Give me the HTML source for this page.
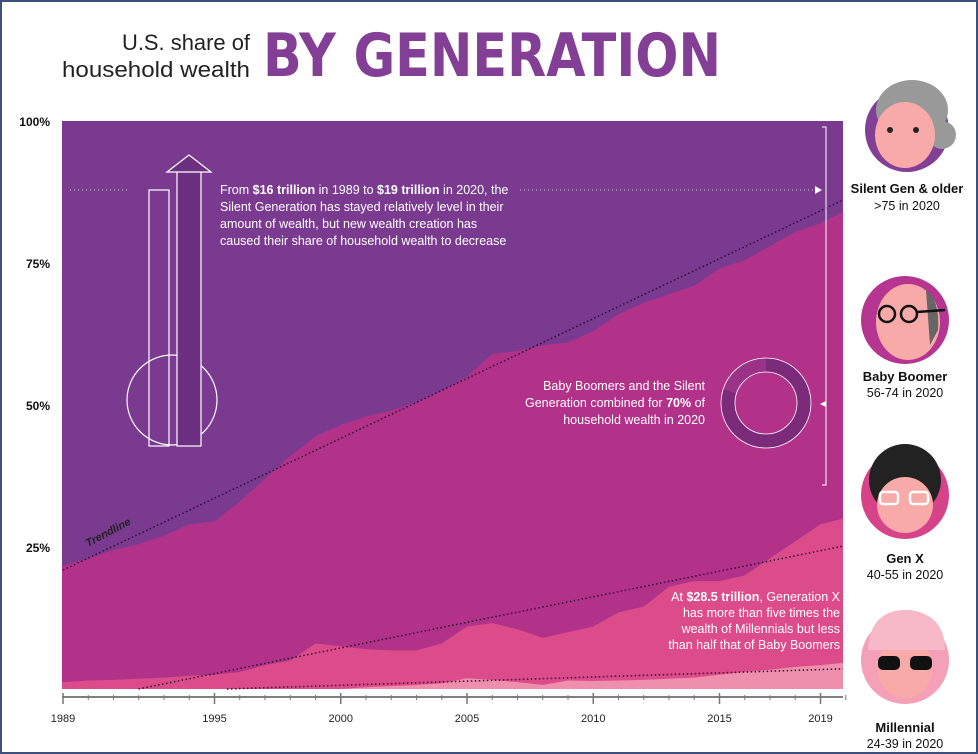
<!DOCTYPE html>
<html><head><meta charset="utf-8"><style>
body{margin:0;width:978px;height:754px;overflow:hidden;background:#fff;font-family:"Liberation Sans",sans-serif}
#frame{position:absolute;left:0;top:0;width:974px;height:750px;border:2px solid #3d4f7c}
</style></head><body>
<div id="frame"></div>
<svg width="978" height="754" style="position:absolute;left:0;top:0" id="chart">
<text x="250" y="50" text-anchor="end" font-size="22" fill="#222" textLength="128" lengthAdjust="spacingAndGlyphs">U.S. share of</text>
<text x="250" y="77" text-anchor="end" font-size="22" fill="#222" textLength="188" lengthAdjust="spacingAndGlyphs">household wealth</text>
<text x="263" y="76" font-size="60" font-weight="bold" fill="#833e96" font-family="DejaVu Sans" textLength="458" lengthAdjust="spacingAndGlyphs">BY GENERATION</text>
<g id="areas"></g>
<g id="axes"></g>
<g id="annot">
<text x="220" y="194" font-size="12.5" fill="#fff"><tspan>From <tspan font-weight="bold">$16 trillion</tspan> in 1989 to <tspan font-weight="bold">$19 trillion</tspan> in 2020, the</tspan><tspan x="220" dy="17">Silent Generation has stayed relatively level in their</tspan><tspan x="220" dy="17">amount of wealth, but new wealth creation has</tspan><tspan x="220" dy="17">caused their share of household wealth to decrease</tspan></text>
<line x1="70" y1="190" x2="130" y2="190" stroke="#fff" stroke-dasharray="1,3" opacity=".7"/>
<line x1="520" y1="190" x2="815" y2="190" stroke="#fff" stroke-dasharray="1,3" opacity=".7"/>
<polygon points="815,186 822,190 815,194" fill="#fff"/>
<g fill="none" stroke="#fff" stroke-width="1.2">
<rect x="149" y="190" width="20" height="256"/>
<circle cx="172" cy="400" r="45"/>
<rect x="177" y="170" width="24" height="276" fill="#6d2f80" stroke="#fff"/>
<polygon points="167,172 189,155 211,172" fill="#6d2f80"/>
</g>
<text x="705" y="390" font-size="12.5" fill="#fff" text-anchor="end"><tspan>Baby Boomers and the Silent</tspan><tspan x="705" dy="17">Generation combined for <tspan font-weight="bold">70%</tspan> of</tspan><tspan x="705" dy="17">household wealth in 2020</tspan></text>
<g>
<circle cx="766" cy="403" r="38" fill="none" stroke="#9a3388" stroke-width="14"/>
<path d="M766,365 A38,38 0 1,1 729.8,391.3" fill="none" stroke="#7c2a7a" stroke-width="14"/>
<circle cx="766" cy="403" r="45" fill="none" stroke="#fff" stroke-width=".8"/>
<circle cx="766" cy="403" r="31" fill="none" stroke="#fff" stroke-width=".8"/>
</g>
<path d="M822,127 H826 V485 H822" fill="none" stroke="#fff" stroke-width="1"/>
<polygon points="826,401 820,404 826,407" fill="#fff"/>
<text x="840" y="601" font-size="12.5" fill="#fff" text-anchor="end"><tspan>At <tspan font-weight="bold">$28.5 trillion</tspan>, Generation X</tspan><tspan x="840" dy="16">has more than five times the</tspan><tspan x="840" dy="16">wealth of Millennials but less</tspan><tspan x="840" dy="16">than half that of Baby Boomers</tspan></text>
<text x="88" y="547" font-size="11" font-style="italic" font-weight="bold" fill="#222" transform="rotate(-28 88 547)">Trendline</text>
</g>
<g id="legend">
<g>
<circle cx="907" cy="130" r="42" fill="#833e96"/>
<ellipse cx="912" cy="110" rx="36" ry="30" fill="#999"/><circle cx="942" cy="135" r="14" fill="#999"/>
<ellipse cx="905" cy="135" rx="30" ry="33" fill="#f7aaa8"/>
<circle cx="890" cy="130" r="3" fill="#222"/><circle cx="916" cy="130" r="3" fill="#222"/>
<text x="907" y="193" font-size="13" font-weight="bold" text-anchor="middle" fill="#111">Silent Gen &amp; older</text>
<text x="907" y="210" font-size="12.5" text-anchor="middle" fill="#111">&gt;75 in 2020</text></g>
<g>
<circle cx="905" cy="320" r="44" fill="#b53590"/>
<ellipse cx="908" cy="322" rx="32" ry="38" fill="#f7aaa8"/>
<path d="M926,290 Q940,300 938,330 L930,345 Z" fill="#666"/>
<circle cx="887" cy="314" r="8" fill="none" stroke="#111" stroke-width="2.5"/><circle cx="909" cy="314" r="8" fill="none" stroke="#111" stroke-width="2.5"/>
<line x1="917" y1="312" x2="945" y2="310" stroke="#111" stroke-width="2.5"/>
<text x="905" y="381" font-size="13" font-weight="bold" text-anchor="middle" fill="#111">Baby Boomer</text>
<text x="905" y="397" font-size="12.5" text-anchor="middle" fill="#111">56-74 in 2020</text></g>
<g>
<circle cx="905" cy="495" r="44" fill="#d64388"/>
<circle cx="905" cy="480" r="36" fill="#222"/>
<ellipse cx="905" cy="505" rx="28" ry="28" fill="#f7aaa8"/>
<rect x="880" y="492" width="18" height="12" rx="3" fill="none" stroke="#fff" stroke-width="2.5"/><rect x="910" y="492" width="18" height="12" rx="3" fill="none" stroke="#fff" stroke-width="2.5"/>
<text x="905" y="563" font-size="13" font-weight="bold" text-anchor="middle" fill="#111">Gen X</text>
<text x="905" y="579" font-size="12.5" text-anchor="middle" fill="#111">40-55 in 2020</text></g>
<g>
<circle cx="905" cy="660" r="44" fill="#f3a0b8"/>
<ellipse cx="905" cy="668" rx="28" ry="30" fill="#f7aaa8"/>
<path d="M868,650 Q870,608 910,610 Q945,615 945,650 Z" fill="#f7b8c8"/>
<rect x="878" y="656" width="22" height="14" rx="5" fill="#111"/><rect x="910" y="656" width="22" height="14" rx="5" fill="#111"/>
<text x="905" y="732" font-size="13" font-weight="bold" text-anchor="middle" fill="#111">Millennial</text>
<text x="905" y="748" font-size="12.5" text-anchor="middle" fill="#111">24-39 in 2020</text></g>
</g>
</svg>
<script>
const years=[1989,1990,1991,1992,1993,1994,1995,1996,1997,1998,1999,2000,2001,2002,2003,2004,2005,2006,2007,2008,2009,2010,2011,2012,2013,2014,2015,2016,2017,2018,2019,2020,2020.75];
const millennialShare=[0,0,0,0,0,0,0,0,0,0,0,0,0.3,0.5,0.7,1.0,1.9,1.6,1.2,0.7,1.5,1.4,1.5,1.6,1.8,2.0,2.5,3.0,3.4,3.9,4.2,4.6,4.8];
const genxCum=[1.2,1.5,1.6,1.8,2.0,2.3,2.5,3.0,4.2,5.0,8.0,7.5,7.0,6.8,6.8,8.0,11.0,11.6,10.5,9.0,10.0,11.0,13.5,14.5,18.0,19.0,19.0,20.0,23.0,26.0,29.0,30.0,31.0];
const boomerCum=[21.7,23.0,24.5,25.5,27.0,29.0,29.5,33.0,37.0,41.0,44.5,46.5,48.0,49.0,50.5,52.5,55.0,59.0,59.5,60.5,61.0,63.0,66.0,68.0,69.5,71.0,74.0,75.5,78.0,80.5,82.0,84.0,85.0];
const yTicks=[25,50,75,100];
const xTicks=[1989,1995,2000,2005,2010,2015,2019];
const X0=62,X1=843;
function x(v){return 63+(v-1989)*25.25;}
function y(v){return 689-v*5.68;}
const NS="http://www.w3.org/2000/svg";
function mk(tag,attrs,parent){const e=document.createElementNS(NS,tag);for(const k in attrs)e.setAttribute(k,attrs[k]);parent.appendChild(e);return e;}
const A=document.getElementById('areas'),AX=document.getElementById('axes');
function area(top,fill,name){
  let d='M'+X0+','+y(0)+' L'+X0+','+y(top[0]);
  years.forEach((yr,i)=>{d+=' L'+Math.min(x(yr),X1)+','+y(top[i]);});
  d+=' L'+X1+','+y(0)+' Z';
  const p=mk('path',{d:d,fill:fill},A);
  
  
}
const bg=mk('rect',{x:X0,y:y(100),width:X1-X0,height:y(0)-y(100),fill:'#7a3a90'},A);


area(boomerCum,'#b23289','area-boomer');
area(genxCum,'#dd4c8a','area-genx');
area(millennialShare,'#ee8fae','area-millennial');
function trend(arr,name){
  const n=years.length;let sx=0,sy=0,sxy=0,sxx=0;
  years.forEach((t,i)=>{sx+=t;sy+=arr[i];sxy+=t*arr[i];sxx+=t*t;});
  const b=(n*sxy-sx*sy)/(n*sxx-sx*sx),a=(sy-b*sx)/n;
  let x0=1989,v0=a+b*x0;if(v0<0){x0=-a/b;v0=0;}
  const l=mk('line',{x1:x(x0),y1:y(v0),x2:X1,y2:y(a+b*2020.75),stroke:'#2a1030','stroke-width':1.5,'stroke-dasharray':'1.5,2.5'},A);
  
  
}
trend(boomerCum,'trendline-boomer');trend(genxCum,'trendline-genx');trend(millennialShare,'trendline-millennial');
yTicks.forEach(t=>{
  const e=mk('text',{x:50,y:y(t)+5,'text-anchor':'end','font-size':12,'font-weight':'bold',fill:'#111'},AX);
  e.textContent=t+'%';
  
  
});
const ax=mk('line',{x1:X0,y1:697,x2:X1,y2:697,stroke:'#555','stroke-width':1.5},AX);


for(let yr=1989;yr<=2020;yr++){
  const big=xTicks.includes(yr);
  mk('line',{x1:x(yr),y1:big?693:695,x2:x(yr),y2:big?704:700,stroke:'#777','stroke-width':big?1.5:1},AX);
}
xTicks.forEach(t=>{
  const e=mk('text',{x:x(t),y:722,'text-anchor':'middle','font-size':11,fill:'#222'},AX);
  e.textContent=t;
  
  
});
</script>
</body></html>
